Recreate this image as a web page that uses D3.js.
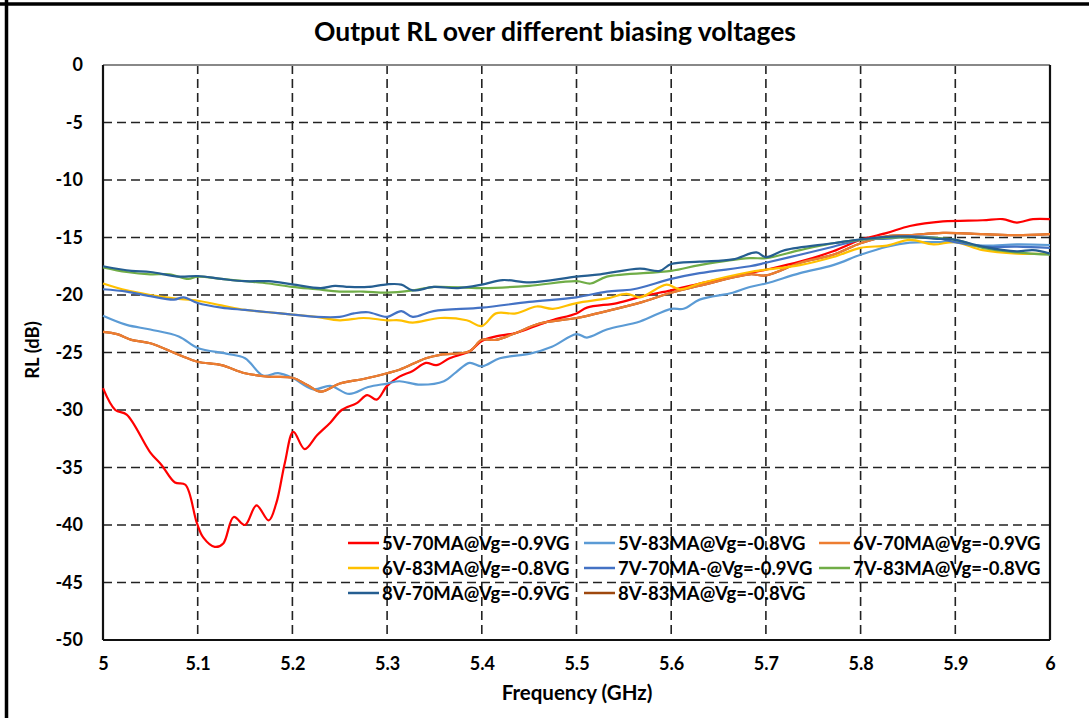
<!DOCTYPE html>
<html><head><meta charset="utf-8">
<script src="https://cdn.jsdelivr.net/npm/d3@7"></script>
<style>
html,body{margin:0;padding:0;background:#fff;}
svg text{font-family:Lato,"Open Sans",sans-serif;font-weight:bold;fill:#000;}
</style></head>
<body>
<svg id="chart" width="1089" height="718"></svg>
<script>
const title = "Output RL over different biasing voltages";
const xLabel = "Frequency (GHz)";
const yLabel = "RL (dB)";
const xTicks = [5,5.1,5.2,5.3,5.4,5.5,5.6,5.7,5.8,5.9,6];
const yTicks = [0,-5,-10,-15,-20,-25,-30,-35,-40,-45,-50];

const seriesNames = ["5V-70MA@Vg=-0.9VG","5V-83MA@Vg=-0.8VG","6V-70MA@Vg=-0.9VG",
  "6V-83MA@Vg=-0.8VG","7V-70MA-@Vg=-0.9VG","7V-83MA@Vg=-0.8VG",
  "8V-70MA@Vg=-0.9VG","8V-83MA@Vg=-0.8VG"];
const seriesColors = ["#FF0000","#5B9BD5","#ED7D31","#FFC000","#4472C4","#70AD47","#255E91","#9E480E"];

const freq5V70 = [5.000,5.013,5.025,5.050,5.062,5.076,5.087,5.099,5.106,5.118,5.127,5.138,5.150,5.162,5.175,5.183,5.192,5.201,5.213,5.226,5.240,5.252,5.268,5.279,5.289,5.300,5.313,5.327,5.341,5.352,5.366,5.387,5.400,5.415,5.436,5.460,5.474,5.500,5.511,5.543,5.570,5.600,5.630,5.665,5.700,5.736,5.771,5.800,5.828,5.852,5.887,5.929,5.950,5.965,5.982,6.000];
const rl5V70 = [-28.1,-30.0,-30.4,-33.7,-34.8,-36.3,-36.5,-39.8,-41.1,-41.9,-41.6,-39.3,-40.0,-38.3,-39.6,-38.1,-34.6,-31.9,-33.4,-32.2,-31.1,-30.0,-29.4,-28.7,-29.1,-27.9,-27.1,-26.6,-25.9,-26.1,-25.5,-24.9,-24.0,-23.6,-23.3,-22.6,-22.2,-21.6,-21.1,-20.7,-20.1,-19.6,-19.0,-18.4,-17.8,-17.1,-16.2,-15.2,-14.6,-14.0,-13.6,-13.5,-13.4,-13.7,-13.4,-13.4];

const freq5V83 = [5.000,5.025,5.050,5.080,5.100,5.130,5.150,5.169,5.185,5.200,5.222,5.240,5.260,5.280,5.300,5.313,5.335,5.360,5.373,5.387,5.400,5.419,5.451,5.474,5.500,5.511,5.532,5.567,5.600,5.613,5.630,5.665,5.683,5.700,5.736,5.771,5.800,5.828,5.852,5.877,5.900,5.929,5.965,6.000];
const rl5V83 = [-21.8,-22.6,-23.0,-23.6,-24.6,-25.1,-25.5,-27.0,-26.8,-27.2,-28.2,-27.9,-28.6,-28.0,-27.7,-27.5,-27.8,-27.5,-26.7,-25.9,-26.2,-25.5,-25.1,-24.5,-23.4,-23.7,-23.0,-22.3,-21.2,-21.2,-20.4,-19.8,-19.3,-19.0,-18.1,-17.4,-16.5,-15.8,-15.45,-15.4,-15.4,-15.7,-15.6,-15.65];

const freq6V70 = [5.000,5.015,5.030,5.050,5.080,5.100,5.125,5.150,5.175,5.200,5.215,5.230,5.250,5.275,5.300,5.313,5.341,5.356,5.387,5.400,5.415,5.436,5.460,5.500,5.532,5.570,5.600,5.630,5.683,5.700,5.736,5.771,5.800,5.828,5.852,5.887,5.929,5.965,6.000];
const rl6V70 = [-23.2,-23.4,-23.9,-24.2,-25.2,-25.8,-26.1,-26.8,-27.1,-27.2,-27.8,-28.4,-27.7,-27.3,-26.8,-26.5,-25.5,-25.2,-24.9,-23.9,-23.9,-23.3,-22.5,-22.0,-21.4,-20.6,-19.8,-19.2,-18.2,-18.3,-17.2,-16.5,-15.5,-14.9,-14.8,-14.6,-14.7,-14.8,-14.7];

const freq6V83 = [5.000,5.025,5.050,5.075,5.100,5.125,5.150,5.175,5.200,5.225,5.250,5.275,5.300,5.313,5.327,5.356,5.384,5.400,5.415,5.436,5.458,5.475,5.500,5.532,5.553,5.567,5.595,5.609,5.630,5.683,5.700,5.736,5.771,5.800,5.828,5.852,5.877,5.900,5.929,5.965,6.000];
const rl6V83 = [-19.0,-19.6,-20.0,-20.3,-20.5,-20.9,-21.3,-21.5,-21.7,-21.9,-22.2,-22.0,-22.2,-22.2,-22.4,-22.0,-22.2,-22.7,-21.6,-21.6,-21.0,-21.2,-20.7,-20.3,-19.9,-20.2,-19.1,-19.5,-19.0,-18.0,-17.8,-17.4,-16.7,-15.9,-15.7,-15.2,-15.6,-15.4,-16.1,-16.4,-16.4];

const freq7V70 = [5.000,5.025,5.050,5.075,5.085,5.100,5.125,5.150,5.175,5.200,5.225,5.250,5.265,5.280,5.300,5.315,5.327,5.349,5.400,5.450,5.500,5.532,5.560,5.600,5.630,5.683,5.700,5.736,5.771,5.800,5.828,5.852,5.877,5.900,5.929,5.965,6.000];
const rl7V70 = [-19.5,-19.7,-20.1,-20.4,-20.2,-20.7,-21.1,-21.3,-21.5,-21.7,-21.9,-21.9,-21.6,-21.5,-21.9,-21.4,-21.9,-21.4,-21.1,-20.6,-20.2,-19.7,-19.5,-18.6,-18.1,-17.5,-17.2,-16.5,-15.8,-15.2,-15.1,-14.9,-15.0,-15.4,-15.8,-15.8,-15.9];

const freq7V83 = [5.000,5.025,5.050,5.070,5.090,5.100,5.125,5.150,5.175,5.200,5.225,5.250,5.275,5.300,5.327,5.350,5.400,5.450,5.500,5.515,5.532,5.600,5.630,5.683,5.700,5.736,5.771,5.800,5.840,5.900,5.929,5.965,6.000];
const rl7V83 = [-17.6,-18.0,-18.2,-18.2,-18.6,-18.4,-18.6,-18.8,-19.0,-19.3,-19.5,-19.7,-19.7,-19.8,-19.6,-19.3,-19.4,-19.2,-18.8,-19.0,-18.4,-17.9,-17.4,-16.8,-16.8,-16.1,-15.5,-15.2,-15.0,-15.2,-15.9,-16.3,-16.5];

const freq8V70 = [5.000,5.030,5.050,5.080,5.100,5.125,5.150,5.175,5.200,5.230,5.245,5.260,5.280,5.300,5.315,5.327,5.349,5.375,5.400,5.422,5.451,5.500,5.525,5.567,5.588,5.600,5.630,5.665,5.690,5.700,5.720,5.771,5.800,5.840,5.877,5.900,5.929,5.965,5.982,6.000];
const rl8V70 = [-17.5,-17.9,-18.0,-18.4,-18.35,-18.6,-18.8,-18.8,-19.07,-19.4,-19.2,-19.3,-19.3,-19.07,-19.1,-19.6,-19.3,-19.4,-19.1,-18.7,-18.9,-18.4,-18.2,-17.7,-17.9,-17.3,-17.1,-16.9,-16.3,-16.7,-16.1,-15.5,-15.15,-14.9,-15.1,-15.2,-15.8,-16.2,-16.1,-16.4];

// 8V-83 trace is not distinguishable in the picture; it lies hidden under the 6V-70 trace
const freq8V83 = [5.000,5.015,5.030,5.050,5.080,5.100,5.125,5.150,5.175,5.200,5.215,5.230,5.250,5.275,5.300,5.313,5.341,5.356,5.387,5.400,5.415,5.436,5.460,5.500,5.532,5.570,5.600,5.630,5.683,5.700,5.736,5.771,5.800,5.828,5.852,5.887,5.929,5.965,6.000];
const rl8V83 = [-23.2,-23.4,-23.9,-24.2,-25.2,-25.8,-26.1,-26.8,-27.1,-27.2,-27.8,-28.4,-27.7,-27.3,-26.8,-26.5,-25.5,-25.2,-24.9,-23.9,-23.9,-23.3,-22.5,-22.0,-21.4,-20.6,-19.8,-19.2,-18.2,-18.3,-17.2,-16.5,-15.5,-14.9,-14.8,-14.6,-14.7,-14.8,-14.7];

const seriesFreq = [freq5V70,freq5V83,freq6V70,freq6V83,freq7V70,freq7V83,freq8V70,freq8V83];
const seriesRL = [rl5V70,rl5V83,rl6V70,rl6V83,rl7V70,rl7V83,rl8V70,rl8V83];

const svg = d3.select("#chart");
const W = 1089, H = 718;
const m = {left:103, right:1050, top:65, bottom:640};

const x = d3.scaleLinear().domain([5,6]).range([m.left, m.right]);
const y = d3.scaleLinear().domain([-50,0]).range([m.bottom, m.top]);

// outer frame
svg.append("line").attr("x1",0).attr("x2",W).attr("y1",4).attr("y2",4).attr("stroke","#000").attr("stroke-width",3.5);
svg.append("line").attr("x1",6.5).attr("x2",6.5).attr("y1",0).attr("y2",H).attr("stroke","#000").attr("stroke-width",3.5);

// title
svg.append("text").attr("x",555).attr("y",41).attr("text-anchor","middle")
  .style("font-size","26.5px").text(title);

// grid
const g = svg.append("g");
g.selectAll(".hg").data(yTicks.filter(v => v>-50 && v<0)).enter().append("line")
  .attr("x1",m.left).attr("x2",m.right).attr("y1",d=>y(d)).attr("y2",d=>y(d))
  .attr("stroke","#222").attr("stroke-width",1.6).attr("stroke-dasharray","9,5");
g.selectAll(".vg").data(xTicks.filter(v => v>5 && v<6)).enter().append("line")
  .attr("y1",m.top).attr("y2",m.bottom).attr("x1",d=>x(d)).attr("x2",d=>x(d))
  .attr("stroke","#222").attr("stroke-width",1.6).attr("stroke-dasharray","9,5");

// plot border
svg.append("line").attr("x1",m.left).attr("x2",m.right).attr("y1",y(0)).attr("y2",y(0)).attr("stroke","#888").attr("stroke-width",2);
svg.append("line").attr("x1",m.right).attr("x2",m.right).attr("y1",m.top).attr("y2",m.bottom).attr("stroke","#111").attr("stroke-width",2.2);
svg.append("line").attr("x1",m.left).attr("x2",m.right).attr("y1",m.bottom).attr("y2",m.bottom).attr("stroke","#111").attr("stroke-width",2.2);
svg.append("line").attr("x1",m.left).attr("x2",m.left).attr("y1",m.top).attr("y2",m.bottom).attr("stroke","#111").attr("stroke-width",2.2);

// axes (labels only)
const yAxis = d3.axisLeft(y).tickValues(yTicks).tickSize(0).tickPadding(20).tickFormat(d => String(d));
const ya = svg.append("g").attr("transform",`translate(${m.left},0)`).call(yAxis);
ya.select(".domain").remove();
ya.selectAll("text").style("font-size","18px").style("font-family","Lato, sans-serif").style("font-weight","bold").attr("fill","#000");

const xAxis = d3.axisBottom(x).tickValues(xTicks).tickSize(0).tickPadding(17).tickFormat(d => String(+d.toFixed(1)));
const xa = svg.append("g").attr("transform",`translate(0,${m.bottom})`).call(xAxis);
xa.select(".domain").remove();
xa.selectAll("text").style("font-size","18px").style("font-family","Lato, sans-serif").style("font-weight","bold").attr("fill","#000");

svg.append("text").attr("x",577).attr("y",700).attr("text-anchor","middle").style("font-size","20.5px").text(xLabel);
svg.append("text").attr("transform","translate(39,350) rotate(-90)").attr("text-anchor","middle").style("font-size","18.5px").text(yLabel);

// lines
const line = d3.line().x(d=>x(d[0])).y(d=>y(d[1])).curve(d3.curveCatmullRom.alpha(0.5));
const drawOrder = [7,0,1,2,3,4,5,6];
drawOrder.forEach(i => {
  const pts = seriesFreq[i].map((f,k)=>[f, seriesRL[i][k]]);
  svg.append("path").datum(pts).attr("d",line).attr("fill","none")
    .attr("stroke",seriesColors[i]).attr("stroke-width",2.2).attr("stroke-linejoin","round");
});

// legend
const legX = [348, 584, 819];
const legY = [543, 568, 593];
seriesNames.forEach((name,i) => {
  const col = i % 3, row = Math.floor(i/3);
  const lg = svg.append("g").attr("transform",`translate(${legX[col]},${legY[row]})`);
  lg.append("line").attr("x1",0).attr("x2",31).attr("y1",0).attr("y2",0).attr("stroke",seriesColors[i]).attr("stroke-width",2.5);
  lg.append("text").attr("x",34).attr("y",6.5).style("font-size","18.5px").text(name);
});
</script>
</body></html>
